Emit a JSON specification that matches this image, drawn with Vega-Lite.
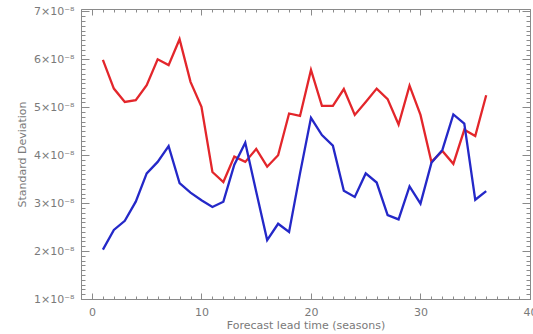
{
  "$schema": "https://vega.github.io/schema/vega-lite/v6.json",
  "width": 449,
  "height": 290,
  "autosize": {"type": "none"},
  "padding": {"left": 81, "top": 9, "right": 3, "bottom": 35},
  "background": "white",
  "config": {
    "view": {"stroke": "#8a8a8a", "strokeWidth": 1},
    "font": "DejaVu Sans",
    "axis": {
      "labelFont": "DejaVu Sans",
      "titleFont": "DejaVu Sans",
      "labelColor": "#7a7a7a",
      "titleColor": "#7a7a7a",
      "labelFontSize": 11,
      "titleFontSize": 11,
      "titleFontWeight": "normal",
      "tickColor": "#8a8a8a",
      "grid": false,
      "domain": false
    }
  },
  "data": {
    "values": [
      {"lead": 1, "sd": 5.99e-8, "series": "A"},
      {"lead": 2, "sd": 5.39e-8, "series": "A"},
      {"lead": 3, "sd": 5.11e-8, "series": "A"},
      {"lead": 4, "sd": 5.15e-8, "series": "A"},
      {"lead": 5, "sd": 5.46e-8, "series": "A"},
      {"lead": 6, "sd": 6.00e-8, "series": "A"},
      {"lead": 7, "sd": 5.88e-8, "series": "A"},
      {"lead": 8, "sd": 6.42e-8, "series": "A"},
      {"lead": 9, "sd": 5.53e-8, "series": "A"},
      {"lead": 10, "sd": 5.01e-8, "series": "A"},
      {"lead": 11, "sd": 3.65e-8, "series": "A"},
      {"lead": 12, "sd": 3.44e-8, "series": "A"},
      {"lead": 13, "sd": 3.97e-8, "series": "A"},
      {"lead": 14, "sd": 3.86e-8, "series": "A"},
      {"lead": 15, "sd": 4.13e-8, "series": "A"},
      {"lead": 16, "sd": 3.76e-8, "series": "A"},
      {"lead": 17, "sd": 4.00e-8, "series": "A"},
      {"lead": 18, "sd": 4.87e-8, "series": "A"},
      {"lead": 19, "sd": 4.82e-8, "series": "A"},
      {"lead": 20, "sd": 5.78e-8, "series": "A"},
      {"lead": 21, "sd": 5.03e-8, "series": "A"},
      {"lead": 22, "sd": 5.03e-8, "series": "A"},
      {"lead": 23, "sd": 5.38e-8, "series": "A"},
      {"lead": 24, "sd": 4.84e-8, "series": "A"},
      {"lead": 25, "sd": 5.11e-8, "series": "A"},
      {"lead": 26, "sd": 5.39e-8, "series": "A"},
      {"lead": 27, "sd": 5.17e-8, "series": "A"},
      {"lead": 28, "sd": 4.64e-8, "series": "A"},
      {"lead": 29, "sd": 5.45e-8, "series": "A"},
      {"lead": 30, "sd": 4.84e-8, "series": "A"},
      {"lead": 31, "sd": 3.86e-8, "series": "A"},
      {"lead": 32, "sd": 4.09e-8, "series": "A"},
      {"lead": 33, "sd": 3.82e-8, "series": "A"},
      {"lead": 34, "sd": 4.53e-8, "series": "A"},
      {"lead": 35, "sd": 4.40e-8, "series": "A"},
      {"lead": 36, "sd": 5.25e-8, "series": "A"},
      {"lead": 1, "sd": 2.03e-8, "series": "B"},
      {"lead": 2, "sd": 2.44e-8, "series": "B"},
      {"lead": 3, "sd": 2.63e-8, "series": "B"},
      {"lead": 4, "sd": 3.03e-8, "series": "B"},
      {"lead": 5, "sd": 3.62e-8, "series": "B"},
      {"lead": 6, "sd": 3.86e-8, "series": "B"},
      {"lead": 7, "sd": 4.19e-8, "series": "B"},
      {"lead": 8, "sd": 3.42e-8, "series": "B"},
      {"lead": 9, "sd": 3.22e-8, "series": "B"},
      {"lead": 10, "sd": 3.06e-8, "series": "B"},
      {"lead": 11, "sd": 2.92e-8, "series": "B"},
      {"lead": 12, "sd": 3.03e-8, "series": "B"},
      {"lead": 13, "sd": 3.80e-8, "series": "B"},
      {"lead": 14, "sd": 4.26e-8, "series": "B"},
      {"lead": 15, "sd": 3.24e-8, "series": "B"},
      {"lead": 16, "sd": 2.23e-8, "series": "B"},
      {"lead": 17, "sd": 2.57e-8, "series": "B"},
      {"lead": 18, "sd": 2.40e-8, "series": "B"},
      {"lead": 19, "sd": 3.62e-8, "series": "B"},
      {"lead": 20, "sd": 4.78e-8, "series": "B"},
      {"lead": 21, "sd": 4.42e-8, "series": "B"},
      {"lead": 22, "sd": 4.20e-8, "series": "B"},
      {"lead": 23, "sd": 3.26e-8, "series": "B"},
      {"lead": 24, "sd": 3.13e-8, "series": "B"},
      {"lead": 25, "sd": 3.62e-8, "series": "B"},
      {"lead": 26, "sd": 3.43e-8, "series": "B"},
      {"lead": 27, "sd": 2.75e-8, "series": "B"},
      {"lead": 28, "sd": 2.66e-8, "series": "B"},
      {"lead": 29, "sd": 3.35e-8, "series": "B"},
      {"lead": 30, "sd": 2.99e-8, "series": "B"},
      {"lead": 31, "sd": 3.84e-8, "series": "B"},
      {"lead": 32, "sd": 4.11e-8, "series": "B"},
      {"lead": 33, "sd": 4.85e-8, "series": "B"},
      {"lead": 34, "sd": 4.66e-8, "series": "B"},
      {"lead": 35, "sd": 3.07e-8, "series": "B"},
      {"lead": 36, "sd": 3.25e-8, "series": "B"}
    ]
  },
  "resolve": {"axis": {"x": "independent", "y": "independent"}},
  "layer": [
    {
      "mark": {"type": "line", "strokeWidth": 2.3},
      "encoding": {
        "x": {
          "field": "lead", "type": "quantitative",
          "scale": {"domain": [-1, 40], "nice": false, "zero": false},
          "axis": {
            "orient": "bottom", "values": [0, 10, 20, 30, 40], "format": "d",
            "ticks": false, "labelPadding": 7, "labelFlush": false,
            "title": "Forecast lead time (seasons)", "titlePadding": 2
          }
        },
        "y": {
          "field": "sd", "type": "quantitative",
          "scale": {"domain": [1e-8, 7.05e-8], "nice": false, "zero": false},
          "axis": {
            "orient": "left", "values": [1e-8, 2e-8, 3e-8, 4e-8, 5e-8, 6e-8, 7e-8],
            "labelExpr": "round(datum.value * 1e8) + '×10⁻⁸'",
            "ticks": false, "labelPadding": 7, "labelFlush": false,
            "title": "Standard Deviation", "titlePadding": 6
          }
        },
        "color": {
          "field": "series", "type": "nominal",
          "scale": {"domain": ["A", "B"], "range": ["#e3262b", "#2428c8"]},
          "legend": null
        }
      }
    },
    {
      "mark": {"type": "line", "opacity": 0},
      "encoding": {
        "x": {
          "field": "lead", "type": "quantitative",
          "axis": {"orient": "bottom", "values": [0, 10, 20, 30, 40], "labels": false, "tickSize": -6, "title": null}
        },
        "y": {
          "field": "sd", "type": "quantitative",
          "axis": {"orient": "left", "values": [1e-8, 2e-8, 3e-8, 4e-8, 5e-8, 6e-8, 7e-8], "labels": false, "tickSize": -8, "title": null}
        }
      }
    },
    {
      "mark": {"type": "line", "opacity": 0},
      "encoding": {
        "x": {
          "field": "lead", "type": "quantitative",
          "axis": {"orient": "bottom", "values": [-1, 0, 1, 2, 3, 4, 5, 6, 7, 8, 9, 10, 11, 12, 13, 14, 15, 16, 17, 18, 19, 20, 21, 22, 23, 24, 25, 26, 27, 28, 29, 30, 31, 32, 33, 34, 35, 36, 37, 38, 39, 40], "labels": false, "tickSize": -3, "title": null}
        },
        "y": {
          "field": "sd", "type": "quantitative",
          "axis": {"orient": "left", "values": [1e-8, 1.1e-8, 1.2e-8, 1.3e-8, 1.4e-8, 1.5e-8, 1.6e-8, 1.7e-8, 1.8e-8, 1.9e-8, 2e-8, 2.1e-8, 2.2e-8, 2.3e-8, 2.4e-8, 2.5e-8, 2.6e-8, 2.7e-8, 2.8e-8, 2.9e-8, 3e-8, 3.1e-8, 3.2e-8, 3.3e-8, 3.4e-8, 3.5e-8, 3.6e-8, 3.7e-8, 3.8e-8, 3.9e-8, 4e-8, 4.1e-8, 4.2e-8, 4.3e-8, 4.4e-8, 4.5e-8, 4.6e-8, 4.7e-8, 4.8e-8, 4.9e-8, 5e-8, 5.1e-8, 5.2e-8, 5.3e-8, 5.4e-8, 5.5e-8, 5.6e-8, 5.7e-8, 5.8e-8, 5.9e-8, 6e-8, 6.1e-8, 6.2e-8, 6.3e-8, 6.4e-8, 6.5e-8, 6.6e-8, 6.7e-8, 6.8e-8, 6.9e-8, 7e-8], "labels": false, "tickSize": -4, "title": null}
        }
      }
    },
    {
      "mark": {"type": "line", "opacity": 0},
      "encoding": {
        "x": {
          "field": "lead", "type": "quantitative",
          "axis": {"orient": "top", "values": [0, 10, 20, 30, 40], "labels": false, "tickSize": -6, "title": null}
        },
        "y": {
          "field": "sd", "type": "quantitative",
          "axis": {"orient": "right", "values": [1e-8, 2e-8, 3e-8, 4e-8, 5e-8, 6e-8, 7e-8], "labels": false, "tickSize": -8, "title": null}
        }
      }
    },
    {
      "mark": {"type": "line", "opacity": 0},
      "encoding": {
        "x": {
          "field": "lead", "type": "quantitative",
          "axis": {"orient": "top", "values": [-1, 0, 1, 2, 3, 4, 5, 6, 7, 8, 9, 10, 11, 12, 13, 14, 15, 16, 17, 18, 19, 20, 21, 22, 23, 24, 25, 26, 27, 28, 29, 30, 31, 32, 33, 34, 35, 36, 37, 38, 39, 40], "labels": false, "tickSize": -3, "title": null}
        },
        "y": {
          "field": "sd", "type": "quantitative",
          "axis": {"orient": "right", "values": [1e-8, 1.1e-8, 1.2e-8, 1.3e-8, 1.4e-8, 1.5e-8, 1.6e-8, 1.7e-8, 1.8e-8, 1.9e-8, 2e-8, 2.1e-8, 2.2e-8, 2.3e-8, 2.4e-8, 2.5e-8, 2.6e-8, 2.7e-8, 2.8e-8, 2.9e-8, 3e-8, 3.1e-8, 3.2e-8, 3.3e-8, 3.4e-8, 3.5e-8, 3.6e-8, 3.7e-8, 3.8e-8, 3.9e-8, 4e-8, 4.1e-8, 4.2e-8, 4.3e-8, 4.4e-8, 4.5e-8, 4.6e-8, 4.7e-8, 4.8e-8, 4.9e-8, 5e-8, 5.1e-8, 5.2e-8, 5.3e-8, 5.4e-8, 5.5e-8, 5.6e-8, 5.7e-8, 5.8e-8, 5.9e-8, 6e-8, 6.1e-8, 6.2e-8, 6.3e-8, 6.4e-8, 6.5e-8, 6.6e-8, 6.7e-8, 6.8e-8, 6.9e-8, 7e-8], "labels": false, "tickSize": -4, "title": null}
        }
      }
    }
  ]
}
